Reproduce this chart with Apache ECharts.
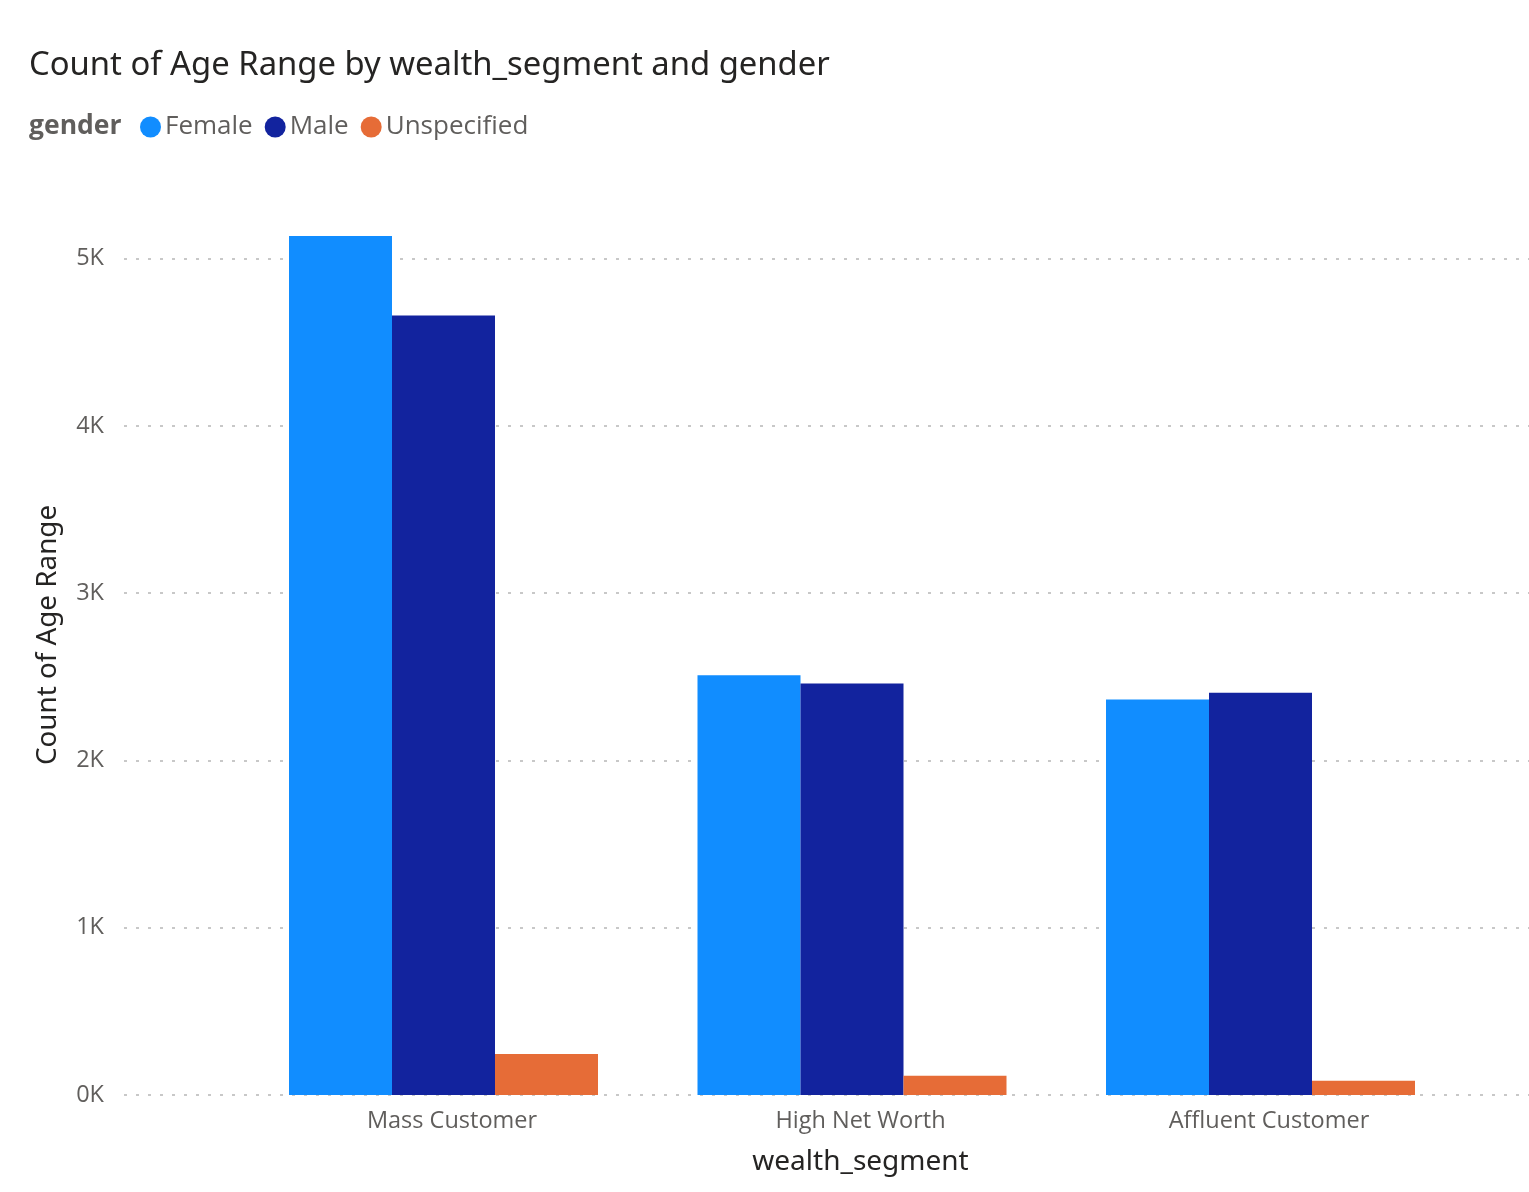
<!DOCTYPE html>
<html><head><meta charset="utf-8">
<style>html,body{margin:0;padding:0;background:#fff}#c{width:1529px;height:1192px}</style>
<script src="https://cdn.jsdelivr.net/npm/echarts@6/dist/echarts.min.js"></script></head>
<body><div id="c"></div>
<script>
const categories=['Mass Customer','High Net Worth','Affluent Customer'];
const female=[5135,2510,2365];
const male=[4660,2460,2405];
const unspecified=[245,115,85];
const yTicks=[0,1000,2000,3000,4000,5000];
const chart=echarts.init(document.getElementById('c'));
const font='"Open Sans","Noto Sans",sans-serif';
const head='"Noto Sans","Open Sans",sans-serif';
const lab={fontFamily:font,fontSize:23.5,color:'#605E5C'};
const mk=(name,data,color)=>({name,type:'bar',xAxisIndex:1,yAxisIndex:1,data,barGap:'0%',barWidth:103,itemStyle:{color},emphasis:{disabled:true}});
const gridTop=175,gridBottom=97;
chart.setOption({
 animation:false,
 title:{text:'Count of Age Range by wealth_segment and gender',left:29,top:49,padding:0,textStyle:{fontFamily:head,fontSize:32.8,fontWeight:'normal',color:'#252423'}},
 legend:{left:140,top:114,itemWidth:21,itemHeight:21,itemGap:12,icon:'circle',padding:0,selectedMode:false,textStyle:{...lab,fontSize:26,padding:[0,0,0,-1]},data:['Female','Male','Unspecified']},
 graphic:[{type:'text',left:29,top:113,style:{text:'gender',font:'bold 26.5px "Open Sans"',fill:'#605E5C'}}],
 grid:[{left:124,right:0,top:gridTop,bottom:gridBottom},{left:239.25,width:1225.5,top:gridTop,bottom:gridBottom}],
 xAxis:[
  {type:'category',gridIndex:0,data:[],show:false},
  {type:'category',gridIndex:1,data:categories,name:'wealth_segment',nameLocation:'middle',nameGap:53,nameTextStyle:{fontFamily:head,fontSize:28,color:'#252423',padding:[0,0,0,17]},axisLine:{show:false},axisTick:{show:false},axisLabel:{...lab,margin:14,padding:[0,0,0,17]}}
 ],
 yAxis:[
  {type:'value',gridIndex:0,min:0,max:5500,interval:1000,name:'Count of Age Range',nameLocation:'middle',nameGap:62,nameTextStyle:{fontFamily:head,fontSize:27.8,color:'#252423'},axisLine:{show:false},axisTick:{show:false},axisLabel:{...lab,margin:20,padding:[4,0,0,0],showMaxLabel:false,formatter:v=>yTicks.includes(v)?(v/1000)+'K':''},splitLine:{showMaxLine:false,lineStyle:{type:[3,9],color:'#c8c8c8',width:2}}},
  {type:'value',gridIndex:1,min:0,max:5500,interval:1000,show:false,splitLine:{show:false}}
 ],
 series:[mk('Female',female,'#118DFF'),mk('Male',male,'#12239E'),mk('Unspecified',unspecified,'#E66C37')]
});
</script></body></html>
